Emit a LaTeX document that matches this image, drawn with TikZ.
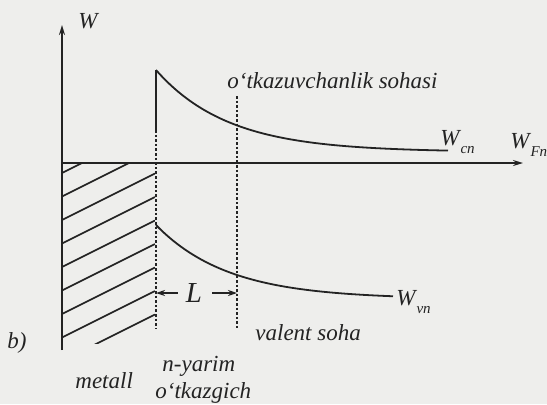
\documentclass[tikz,border=0pt]{standalone}
\usepackage{fontspec}
\setmainfont{Liberation Serif}
\usetikzlibrary{arrows.meta,positioning}
\definecolor{inkgray}{RGB}{35,35,35}
\definecolor{papergray}{RGB}{238,238,236}
\newcommand{\Wlab}[1]{\textit{W}\kern0.5pt\raisebox{-4pt}{\fontsize{7.5}{9}\selectfont\textit{#1}}}

\begin{document}
\begin{tikzpicture}[
    x=0.5pt, y=-0.5pt,
    axis/.style={-{Stealth[length=5pt,width=3pt]}, line width=1pt, inkgray},
    band/.style={line width=0.9pt, inkgray},
    hatchline/.style={line width=0.8pt, inkgray},
    bound/.style={line width=1pt, inkgray, dash pattern=on 1.3pt off 1pt},
    arrow/.style={-{Stealth[length=4.5pt,width=3pt]}, line width=0.7pt, inkgray},
    lab/.style={font=\fontsize{11.5}{13}\selectfont\itshape, text=inkgray, inner sep=0pt, anchor=base west}
]
    \fill[papergray] (0,0) rectangle (547,404);
    \useasboundingbox (0,0) rectangle (547,404);

    % axes
    \coordinate (O) at (62,163);
    \coordinate (Wtop) at (62,25);
    \coordinate (Ybot) at (62,350);
    \coordinate (Xend) at (523,163);
    \draw[axis] (Ybot) -- (Wtop);
    \draw[axis] (O) -- (Xend);

    % metal hatching
    \begin{scope}
        \clip (62,163) rectangle (155,343);
        \foreach \yy in {173,196.5,...,361}
            \draw[hatchline] (62,\yy) -- (155,\yy-46.5);
    \end{scope}

    % boundaries
    \coordinate (Bpeak) at (156,70);
    \coordinate (Bfoot) at (156,130);
    \coordinate (Bbot) at (156,328);
    \coordinate (Dtop) at (237,96);
    \coordinate (Dbot) at (237,328);
    \draw[band] (Bfoot) -- (Bpeak);
    \draw[bound] (Bfoot) -- (Bbot);
    \draw[bound] (Dtop) -- (Dbot);

    % bands
    \draw[band] plot[domain=156:448, samples=80] (\x,{152-82*exp(-(\x-156)/72)});
    \draw[band] plot[domain=156:393, samples=80] (\x,{299-74*exp(-(\x-156)/72)});

    % width L
    \coordinate (Lleft) at (156,293);
    \coordinate (Lright) at (237,293);
    \node[lab, anchor=center, font=\fontsize{14.5}{16}\selectfont\itshape] (L) at (194,293) {L};
    \draw[arrow] ([xshift=-4pt]L.west) -- (Lleft);
    \draw[arrow] ([xshift=5pt]L.east) -- (Lright);

    % labels
    \node[lab] (Wax) at (78,28) {W};
    \node[lab] (cond) at (227,88) {o‘tkazuvchanlik sohasi};
    \node[lab] (Wcn) at (440,145) {\Wlab{cn}};
    \node[lab] (WFn) at (510,148) {\Wlab{Fn}};
    \node[lab] (Wvn) at (396,305) {\Wlab{vn}};
    \node[lab] (val) at (255,340) {valent soha};
    \node[lab] (b) at (7,348) {b)};
    \node[lab] (met) at (75,388) {metall};
    \node[lab] (nyar) at (162,371) {n-yarim};
    \node[lab] (otk) at (155,398) {o‘tkazgich};
\end{tikzpicture}
\end{document}
